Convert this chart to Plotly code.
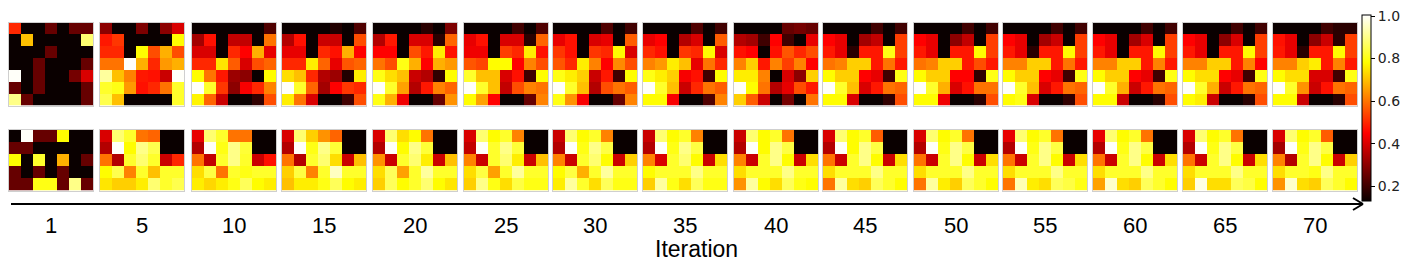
import plotly.graph_objects as go

# ---------------- data ----------------
iterations = [1, 5, 10, 15, 20, 25, 30, 35, 40, 45, 50, 55, 60, 65, 70]

top_01 = [[0.50,0.13,0.13,0.25,0.13,0.25,0.25],
          [0.13,0.70,0.13,0.13,0.13,0.13,0.88],
          [0.13,0.13,0.13,0.25,0.13,0.13,0.13],
          [0.13,0.13,0.25,0.13,0.13,0.13,0.25],
          [1.00,0.13,0.25,0.13,0.13,0.27,0.40],
          [0.25,0.13,0.25,0.13,0.13,0.13,0.25],
          [0.90,0.25,0.13,0.13,0.13,0.13,0.25]]
top_05 = [[0.30,0.13,0.13,0.28,0.13,0.30,0.40],
          [0.48,0.52,0.13,0.13,0.13,0.13,0.78],
          [0.50,0.50,0.13,0.78,0.55,0.68,0.55],
          [0.60,0.60,1.00,0.68,0.50,0.65,0.68],
          [0.92,0.70,0.62,0.48,0.47,0.38,1.00],
          [0.82,0.80,0.65,0.47,0.50,0.60,0.82],
          [0.85,0.70,0.13,0.13,0.13,0.13,0.82]]
top_10 = [[0.13,0.13,0.13,0.13,0.13,0.13,0.22],
          [0.33,0.47,0.13,0.37,0.37,0.13,0.60],
          [0.40,0.40,0.13,0.50,0.45,0.68,0.42],
          [0.50,0.50,0.75,0.57,0.40,0.55,0.58],
          [0.78,0.60,0.48,0.32,0.30,0.13,0.78],
          [1.00,0.82,0.52,0.30,0.44,0.50,0.62],
          [0.77,0.58,0.38,0.13,0.13,0.18,0.55]]
top_15 = [[0.13,0.13,0.13,0.13,0.16,0.13,0.22],
          [0.35,0.47,0.13,0.38,0.38,0.13,0.55],
          [0.42,0.42,0.13,0.50,0.47,0.68,0.45],
          [0.50,0.50,0.76,0.58,0.42,0.56,0.58],
          [0.74,0.70,0.50,0.35,0.32,0.16,0.76],
          [1.00,0.82,0.58,0.33,0.45,0.52,0.50],
          [0.76,0.60,0.40,0.13,0.13,0.20,0.55]]
top_20 = [[0.13,0.13,0.13,0.13,0.17,0.13,0.28],
          [0.35,0.48,0.13,0.40,0.40,0.17,0.58],
          [0.45,0.45,0.13,0.55,0.48,0.76,0.47],
          [0.60,0.55,0.80,0.68,0.45,0.68,0.65],
          [0.80,0.74,0.70,0.38,0.35,0.18,0.78],
          [1.00,0.82,0.66,0.35,0.48,0.62,0.58],
          [0.80,0.68,0.43,0.13,0.13,0.25,0.64]]
top_25 = [[0.13,0.13,0.13,0.13,0.20,0.13,0.22],
          [0.42,0.47,0.13,0.40,0.40,0.17,0.58],
          [0.43,0.43,0.13,0.53,0.50,0.76,0.47],
          [0.56,0.54,0.78,0.78,0.45,0.62,0.55],
          [0.82,0.70,0.70,0.40,0.47,0.20,0.78],
          [1.00,0.82,0.70,0.37,0.55,0.62,0.60],
          [0.78,0.66,0.45,0.13,0.13,0.25,0.62]]
top_30 = [[0.13,0.13,0.13,0.13,0.22,0.13,0.20],
          [0.42,0.47,0.13,0.40,0.42,0.13,0.57],
          [0.52,0.47,0.13,0.52,0.50,0.78,0.40],
          [0.56,0.50,0.76,0.62,0.45,0.63,0.55],
          [0.80,0.76,0.72,0.38,0.48,0.20,0.78],
          [1.00,0.82,0.70,0.35,0.55,0.60,0.57],
          [0.80,0.64,0.44,0.13,0.13,0.25,0.62]]
top_35 = [[0.13,0.13,0.13,0.13,0.22,0.13,0.20],
          [0.42,0.45,0.13,0.35,0.40,0.13,0.57],
          [0.50,0.47,0.13,0.52,0.50,0.78,0.40],
          [0.62,0.65,0.76,0.70,0.42,0.60,0.50],
          [0.80,0.76,0.72,0.44,0.47,0.20,0.78],
          [1.00,0.82,0.70,0.38,0.50,0.60,0.57],
          [0.78,0.78,0.44,0.13,0.13,0.22,0.62]]
top_40 = [[0.13,0.13,0.13,0.13,0.25,0.27,0.25],
          [0.35,0.33,0.20,0.45,0.20,0.13,0.42],
          [0.47,0.45,0.13,0.47,0.56,0.50,0.55],
          [0.62,0.72,0.48,0.62,0.53,0.62,0.45],
          [0.76,0.76,0.62,0.13,0.40,0.30,0.72],
          [1.00,0.78,0.60,0.35,0.42,0.55,0.48],
          [0.72,0.57,0.38,0.13,0.27,0.13,0.60]]
top_45 = [[0.13,0.13,0.13,0.13,0.20,0.13,0.20],
          [0.45,0.42,0.13,0.33,0.37,0.13,0.53],
          [0.48,0.42,0.17,0.48,0.48,0.80,0.53],
          [0.60,0.62,0.72,0.72,0.48,0.60,0.48],
          [0.78,0.72,0.72,0.45,0.42,0.20,0.80],
          [1.00,0.82,0.70,0.40,0.48,0.60,0.58],
          [0.78,0.78,0.40,0.13,0.13,0.18,0.55]]
top_50 = [[0.13,0.13,0.13,0.13,0.20,0.13,0.20],
          [0.45,0.42,0.13,0.30,0.37,0.13,0.53],
          [0.48,0.42,0.13,0.48,0.48,0.78,0.53],
          [0.60,0.62,0.72,0.72,0.48,0.55,0.48],
          [0.78,0.72,0.72,0.45,0.45,0.18,0.80],
          [1.00,0.82,0.68,0.40,0.47,0.60,0.60],
          [0.78,0.78,0.43,0.13,0.13,0.17,0.55]]
top_55 = [[0.13,0.13,0.13,0.13,0.20,0.13,0.20],
          [0.45,0.42,0.13,0.33,0.38,0.13,0.53],
          [0.48,0.42,0.17,0.48,0.48,0.78,0.53],
          [0.62,0.62,0.72,0.72,0.48,0.60,0.48],
          [0.78,0.72,0.72,0.45,0.42,0.20,0.80],
          [1.00,0.82,0.70,0.40,0.48,0.60,0.58],
          [0.78,0.80,0.40,0.13,0.13,0.18,0.55]]
top_60 = [[0.13,0.13,0.13,0.13,0.20,0.13,0.20],
          [0.45,0.42,0.13,0.33,0.40,0.13,0.53],
          [0.48,0.42,0.13,0.48,0.48,0.78,0.53],
          [0.62,0.62,0.72,0.72,0.48,0.62,0.48],
          [0.78,0.72,0.72,0.45,0.42,0.20,0.80],
          [1.00,0.82,0.68,0.38,0.48,0.60,0.58],
          [0.78,0.78,0.38,0.13,0.13,0.17,0.55]]
top_65 = [[0.13,0.13,0.13,0.13,0.20,0.13,0.20],
          [0.45,0.42,0.13,0.30,0.40,0.13,0.53],
          [0.48,0.42,0.13,0.48,0.48,0.78,0.53],
          [0.62,0.62,0.72,0.72,0.48,0.62,0.45],
          [0.78,0.74,0.74,0.45,0.42,0.20,0.80],
          [1.00,0.82,0.68,0.38,0.48,0.60,0.58],
          [0.78,0.76,0.38,0.13,0.13,0.17,0.55]]
top_70 = [[0.13,0.13,0.13,0.13,0.20,0.17,0.17],
          [0.47,0.42,0.13,0.30,0.38,0.17,0.53],
          [0.48,0.42,0.17,0.48,0.48,0.78,0.53],
          [0.62,0.62,0.72,0.76,0.48,0.62,0.48],
          [0.78,0.74,0.74,0.40,0.40,0.20,0.80],
          [1.00,0.82,0.64,0.38,0.47,0.60,0.58],
          [0.78,0.78,0.38,0.13,0.13,0.17,0.55]]

bot_01 = [[0.13,1.00,0.25,0.25,0.78,0.13,0.13],
          [0.25,0.25,0.13,0.13,0.13,0.13,0.13],
          [0.78,0.13,0.82,0.13,0.68,0.13,0.25],
          [0.25,0.13,0.25,0.13,0.25,0.13,0.13],
          [0.25,0.25,0.80,0.80,0.25,0.90,0.25]]
bot_05 = [[0.40,0.88,0.82,0.60,0.58,0.13,0.13],
          [0.35,1.00,0.78,0.90,0.85,0.13,0.13],
          [0.60,0.35,0.82,0.88,0.82,0.38,0.50],
          [0.78,0.85,0.62,0.82,0.70,0.82,0.82],
          [0.75,0.72,0.72,0.76,0.88,0.82,0.85]]
bot_10 = [[0.42,0.88,0.82,0.60,0.60,0.13,0.13],
          [0.35,1.00,0.80,0.90,0.83,0.13,0.13],
          [0.60,0.37,0.82,0.90,0.82,0.38,0.47],
          [0.74,0.84,0.60,0.82,0.80,0.82,0.82],
          [0.76,0.73,0.76,0.80,0.86,0.78,0.76]]
bot_15 = [[0.40,0.88,0.72,0.64,0.58,0.13,0.13],
          [0.35,1.00,0.80,0.90,0.83,0.13,0.13],
          [0.60,0.35,0.82,0.88,0.74,0.38,0.70],
          [0.72,0.84,0.62,0.82,0.95,0.82,0.82],
          [0.70,0.76,0.76,0.80,0.86,0.78,0.76]]
bot_20 = [[0.40,0.88,0.74,0.78,0.60,0.13,0.13],
          [0.35,1.00,0.78,0.90,0.83,0.13,0.13],
          [0.64,0.38,0.82,0.88,0.76,0.38,0.70],
          [0.74,0.86,0.66,0.82,0.92,0.82,0.82],
          [0.72,0.86,0.78,0.82,0.88,0.78,0.75]]
bot_25 = [[0.40,0.88,0.78,0.82,0.62,0.13,0.13],
          [0.37,1.00,0.82,0.90,0.83,0.13,0.13],
          [0.62,0.38,0.82,0.88,0.76,0.38,0.70],
          [0.74,0.84,0.66,0.82,0.92,0.82,0.82],
          [0.72,0.90,0.80,0.74,0.84,0.80,0.80]]
bot_30 = [[0.38,0.88,0.78,0.82,0.62,0.13,0.13],
          [0.35,1.00,0.80,0.90,0.84,0.13,0.13],
          [0.62,0.38,0.82,0.88,0.78,0.38,0.72],
          [0.78,0.84,0.68,0.82,0.92,0.82,0.82],
          [0.76,0.92,0.82,0.74,0.86,0.80,0.80]]
bot_35 = [[0.38,0.88,0.78,0.82,0.62,0.13,0.13],
          [0.35,1.00,0.80,0.90,0.84,0.13,0.13],
          [0.62,0.40,0.82,0.88,0.78,0.38,0.74],
          [0.78,0.82,0.82,0.82,0.90,0.82,0.82],
          [0.72,0.92,0.80,0.74,0.86,0.80,0.80]]
bot_40 = [[0.38,0.88,0.78,0.82,0.60,0.13,0.13],
          [0.35,1.00,0.78,0.90,0.84,0.13,0.13],
          [0.62,0.38,0.82,0.90,0.78,0.38,0.74],
          [0.74,0.82,0.82,0.82,0.90,0.82,0.82],
          [0.64,0.92,0.78,0.74,0.86,0.80,0.78]]
bot_45 = [[0.40,0.88,0.78,0.82,0.57,0.13,0.13],
          [0.35,1.00,0.78,0.90,0.84,0.13,0.13],
          [0.60,0.38,0.82,0.90,0.78,0.38,0.74],
          [0.74,0.82,0.82,0.82,0.90,0.82,0.82],
          [0.60,0.92,0.74,0.72,0.86,0.82,0.78]]
bot_50 = [[0.40,0.88,0.78,0.82,0.60,0.13,0.13],
          [0.35,1.00,0.80,0.90,0.84,0.13,0.13],
          [0.60,0.38,0.82,0.90,0.78,0.38,0.74],
          [0.74,0.82,0.82,0.82,0.90,0.82,0.82],
          [0.60,0.92,0.76,0.72,0.86,0.82,0.78]]
bot_55 = [[0.42,0.88,0.78,0.82,0.60,0.13,0.13],
          [0.35,1.00,0.80,0.90,0.84,0.13,0.13],
          [0.60,0.38,0.82,0.90,0.78,0.38,0.74],
          [0.74,0.82,0.82,0.82,0.90,0.82,0.82],
          [0.60,0.94,0.76,0.74,0.86,0.84,0.80]]
bot_60 = [[0.42,0.88,0.78,0.82,0.60,0.13,0.13],
          [0.35,1.00,0.80,0.90,0.84,0.13,0.13],
          [0.60,0.38,0.82,0.90,0.78,0.38,0.74],
          [0.74,0.82,0.82,0.82,0.90,0.82,0.82],
          [0.66,0.96,0.74,0.72,0.86,0.82,0.78]]
bot_65 = [[0.40,0.88,0.78,0.82,0.60,0.13,0.13],
          [0.35,1.00,0.80,0.90,0.84,0.13,0.13],
          [0.60,0.38,0.82,0.90,0.78,0.38,0.74],
          [0.74,0.82,0.82,0.82,0.90,0.82,0.82],
          [0.72,0.98,0.74,0.74,0.86,0.84,0.78]]
bot_70 = [[0.40,0.88,0.78,0.82,0.57,0.13,0.13],
          [0.33,1.00,0.80,0.90,0.84,0.13,0.13],
          [0.62,0.35,0.82,0.90,0.78,0.38,0.72],
          [0.74,0.82,0.82,0.80,0.90,0.82,0.82],
          [0.64,0.96,0.74,0.72,0.86,0.82,0.78]]

top_maps = [top_01, top_05, top_10, top_15, top_20, top_25, top_30, top_35,
            top_40, top_45, top_50, top_55, top_60, top_65, top_70]
bot_maps = [bot_01, bot_05, bot_10, bot_15, bot_20, bot_25, bot_30, bot_35,
            bot_40, bot_45, bot_50, bot_55, bot_60, bot_65, bot_70]

colorbar_ticks = [0.2, 0.4, 0.6, 0.8, 1.0]

# ---------------- layout (pixels) ----------------
W, H = 1408, 262
panel_x0 = [1, 92, 184, 274, 365, 456, 545, 635, 726, 815, 906, 995, 1085, 1175, 1265]
panel_w = 84
top_y = (14.5, 97.5)
bot_y = (121.5, 182.5)

def px(x):
    return x / W

def py(y):
    return 1 - y / H

hot = [[0.0, "rgb(10,0,0)"], [0.365079, "rgb(255,0,0)"],
       [0.746032, "rgb(255,255,0)"], [1.0, "rgb(255,255,255)"]]

fig = go.Figure()
layout_axes = {}
n = 0
for i, it in enumerate(iterations):
    for maps, (y0, y1) in ((top_maps, top_y), (bot_maps, bot_y)):
        n += 1
        z = maps[i]
        xa = "x" if n == 1 else f"x{n}"
        ya = "y" if n == 1 else f"y{n}"
        fig.add_trace(go.Heatmap(z=z, coloraxis="coloraxis", xaxis=xa, yaxis=ya,
                                 hovertemplate=f"iter {it}<br>%{{z}}<extra></extra>"))
        key = "" if n == 1 else str(n)
        layout_axes[f"xaxis{key}"] = dict(
            domain=[px(panel_x0[i]), px(panel_x0[i] + panel_w)],
            anchor=ya, range=[-0.5, len(z[0]) - 0.5],
            showticklabels=False, ticks="", showgrid=False, zeroline=False,
            showline=True, linecolor="#cfcfcf", linewidth=1, mirror=True)
        layout_axes[f"yaxis{key}"] = dict(
            domain=[py(y1), py(y0)], anchor=xa,
            range=[len(z) - 0.5, -0.5],
            showticklabels=False, ticks="", showgrid=False, zeroline=False,
            showline=True, linecolor="#cfcfcf", linewidth=1, mirror=True)

fig.update_layout(**layout_axes)

annotations = []
for i, it in enumerate(iterations):
    annotations.append(dict(x=px(panel_x0[i] + panel_w / 2), y=py(217), xref="paper", yref="paper",
                            text=str(it), showarrow=False, xanchor="center", yanchor="middle",
                            font=dict(family="Liberation Sans, Arial", size=22, color="black")))
annotations.append(dict(x=px(688), y=py(241), xref="paper", yref="paper", text="Iteration",
                        showarrow=False, xanchor="center", yanchor="middle",
                        font=dict(family="Liberation Sans, Arial", size=23, color="black")))

shapes = [
    dict(type="line", xref="paper", yref="paper", x0=px(3), x1=px(1354), y0=py(196), y1=py(196),
         line=dict(color="black", width=2)),
    dict(type="line", xref="paper", yref="paper", x0=px(1345), x1=px(1355), y0=py(190), y1=py(196),
         line=dict(color="black", width=2)),
    dict(type="line", xref="paper", yref="paper", x0=px(1345), x1=px(1355), y0=py(202), y1=py(196),
         line=dict(color="black", width=2)),
]

fig.update_layout(
    width=W, height=H, margin=dict(l=0, r=0, t=0, b=0),
    paper_bgcolor="white", plot_bgcolor="white",
    showlegend=False,
    annotations=annotations, shapes=shapes,
    coloraxis=dict(
        colorscale=hot, cmin=0.13, cmax=1.005,
        colorbar=dict(
            x=px(1354), xanchor="left", xpad=0, xref="paper",
            y=py(7), yanchor="top", ypad=0, yref="paper",
            len=186, lenmode="pixels", thickness=9, thicknessmode="pixels",
            outlinewidth=1, outlinecolor="black",
            ticks="outside", ticklen=4, tickwidth=1, tickcolor="black",
            ticklabeloverflow="allow",
            tickvals=colorbar_ticks, ticktext=[f"{t:.1f}" for t in colorbar_ticks],
            tickfont=dict(family="DejaVu Sans", size=14, color="#222222"),
        ),
    ),
)

fig.write_html("out.html")
